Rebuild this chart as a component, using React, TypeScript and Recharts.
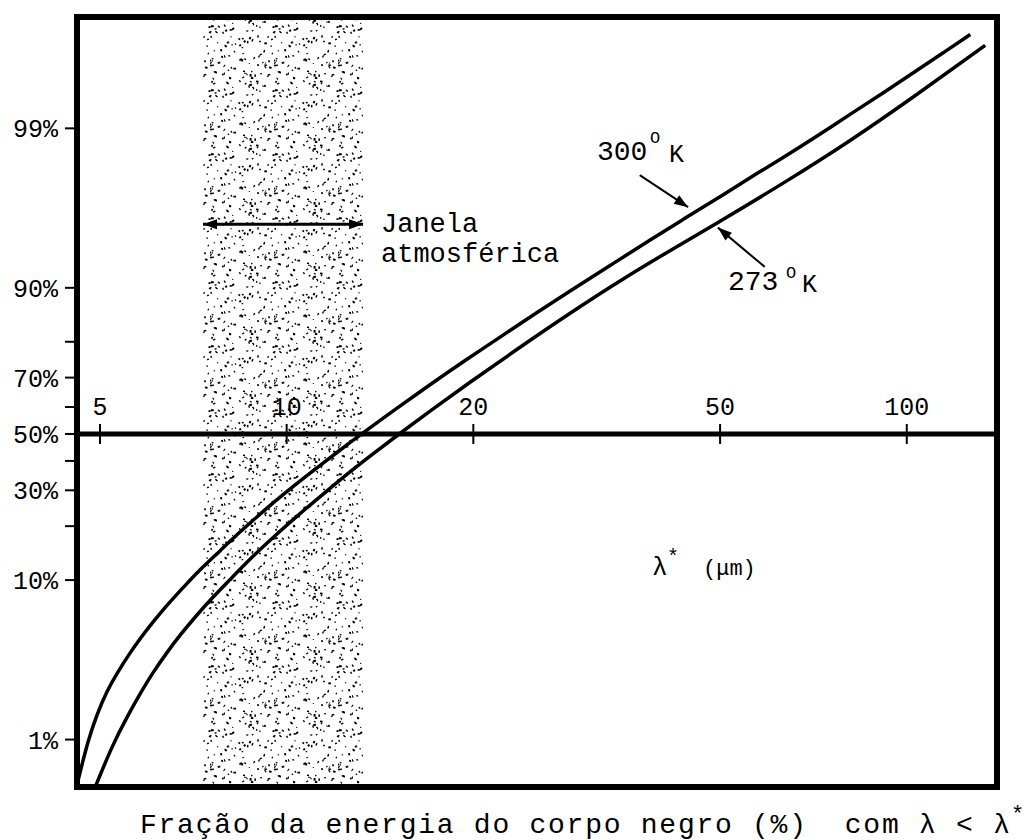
import { LineChart, Line, XAxis, YAxis, ReferenceArea, ReferenceLine, ReferenceDot } from 'recharts';

// λ* (µm) e fração acumulada (%)
const lambda300 = [4.608, 4.642, 4.782, 4.945, 5.132, 5.326, 5.548, 5.8, 6.087, 6.412, 6.856, 7.328, 7.806, 8.315, 8.793, 9.296, 10.05, 10.91, 12.01, 13.23, 15.01, 17.03, 19.4, 22.09, 25.16, 28.65, 33.23, 38.56, 43.74, 49.45, 55.9, 63.19, 71.67, 81.02, 91.93, 103.9, 114.9, 126.6];
const frac300 = [0.54, 0.61, 0.96, 1.44, 2.03, 2.65, 3.42, 4.38, 5.57, 7.06, 9.28, 11.9, 14.7, 18.0, 21.2, 24.7, 29.9, 35.7, 42.8, 50.1, 59.3, 67.7, 75.1, 81.1, 85.9, 89.55, 92.64, 94.86, 96.21, 97.18, 97.92, 98.46, 98.88, 99.188, 99.417, 99.58, 99.68, 99.754];
const lambda273 = [4.93, 5.228, 5.527, 5.8, 6.087, 6.412, 6.729, 7.14, 7.606, 8.132, 8.728, 9.577, 10.51, 11.53, 12.65, 13.73, 15.13, 17.03, 19.76, 23.79, 28.65, 33.23, 38.56, 49.45, 63.19, 81.02, 103.9, 133.8];
const frac273 = [0.51, 0.89, 1.39, 1.96, 2.68, 3.6, 4.61, 6.06, 7.9, 10.2, 13.2, 17.8, 23.2, 29.3, 36.1, 42.3, 49.7, 58.5, 68.5, 78.65, 86.0, 90.08, 92.95, 95.98, 97.75, 98.803, 99.399, 99.711];

const xTicks = [5, 10, 20, 50, 100];
const yTicks = [1, 10, 20, 30, 40, 50, 60, 70, 80, 90, 99];
const yTickLabels = ['1%', '10%', '', '30%', '', '50%', '', '70%', '', '90%', '99%'];

// janela atmosférica (µm) e setas das anotações [λ, %]
const windowBand = [7.33, 13.28];
const windowArrowPct = 95.9;
const arrow300 = [[37.1, 98.0], [44.4, 96.8]];
const arrow273 = [[59.0, 92.5], [49.6, 95.7]];

const xDomain = [4.591, 139.8];
const pctDomain = [0.4926, 99.811];

const FONT = '"Liberation Mono", "DejaVu Sans Mono", monospace';
const logit = (p: number) => Math.log(p / (100 - p));
const yDomain = pctDomain.map(logit);

const series300 = lambda300.map((l, i) => ({ lam: l, z: logit(frac300[i]) }));
const series273 = lambda273.map((l, i) => ({ lam: l, z: logit(frac273[i]) }));
const yTicksZ = yTicks.map(logit);

// pontilhado da faixa
const specks = (() => {
  let s = 987654321;
  const rnd = () => {
    s = (Math.imul(s, 1664525) + 1013904223) >>> 0;
    return s / 4294967296;
  };
  const out: { x: number; y: number; w: number; h: number; r: number }[] = [];
  for (let i = 0; i < 110; i++) {
    out.push({ x: rnd() * 64, y: rnd() * 64, w: 1 + rnd() * 1.8, h: 1 + rnd() * 1.1, r: rnd() * 180 });
  }
  return out;
})();

function head(x: number, y: number, fx: number, fy: number) {
  const a = Math.atan2(y - fy, x - fx);
  const L = 14;
  const W = 5;
  const bx = x - L * Math.cos(a);
  const by = y - L * Math.sin(a);
  const px = -Math.sin(a) * W;
  const py = Math.cos(a) * W;
  return `${x},${y} ${bx + px},${by + py} ${bx - px},${by - py}`;
}

function ArrowShape(props: any) {
  const { x1, y1, x2, y2 } = props;
  return (
    <g>
      <line x1={x1} y1={y1} x2={x2} y2={y2} stroke="#000" strokeWidth={2} />
      <polygon points={head(x2, y2, x1, y1)} fill="#000" />
    </g>
  );
}

function DoubleArrowShape(props: any) {
  const { x1, y1, x2, y2 } = props;
  return (
    <g>
      <line x1={x1} y1={y1} x2={x2} y2={y2} stroke="#000" strokeWidth={3} />
      <polygon points={head(x2, y2, x1, y1)} fill="#000" />
      <polygon points={head(x1, y1, x2, y2)} fill="#000" />
    </g>
  );
}

function LeftTick(props: any) {
  const { x, y, payload } = props;
  let idx = 0;
  yTicksZ.forEach((z, i) => {
    if (Math.abs(z - payload.value) < Math.abs(yTicksZ[idx] - payload.value)) idx = i;
  });
  return (
    <text x={x} y={y} dy={9} textAnchor="end" fontFamily={FONT} fontSize={25} fill="#000">
      {yTickLabels[idx]}
    </text>
  );
}

function MidTick(props: any) {
  const { cx, cy, label } = props;
  return (
    <g>
      <line x1={cx} x2={cx} y1={cy - 10} y2={cy + 10} stroke="#000" strokeWidth={2} />
      <text x={cx} y={cy - 19} textAnchor="middle" fontFamily={FONT} fontSize={25} fill="#000">
        {label}
      </text>
    </g>
  );
}

export default function App() {
  return (
    <div style={{ position: 'absolute', left: 0, top: 0, width: 1032, height: 840, background: '#fff' }}>
      <LineChart width={1032} height={840} margin={{ top: 0, right: 0, bottom: 0, left: 0 }}>
        <defs>
          <pattern id="stipple" width={64} height={64} patternUnits="userSpaceOnUse">
            {specks.map((p, i) => (
              <rect key={i} x={p.x} y={p.y} width={p.w} height={p.h} fill="#000" transform={`rotate(${p.r} ${p.x} ${p.y})`} />
            ))}
          </pattern>
        </defs>
        <XAxis xAxisId="top" orientation="top" dataKey="lam" type="number" scale="log" domain={xDomain} allowDataOverflow
          ticks={xTicks} interval={0} height={17} tickSize={7} tick={false} axisLine={false} tickLine={{ stroke: '#000', strokeWidth: 2 }} />
        <XAxis xAxisId="bot" orientation="bottom" dataKey="lam" type="number" scale="log" domain={xDomain} allowDataOverflow
          ticks={xTicks} interval={0} height={53} tickSize={11} tick={false} axisLine={false} tickLine={{ stroke: '#000', strokeWidth: 2 }} />
        <YAxis yAxisId="l" orientation="left" type="number" domain={yDomain} allowDataOverflow ticks={yTicksZ} interval={0}
          width={77} tickSize={12} tickMargin={7} tick={<LeftTick />} axisLine={false} tickLine={{ stroke: '#000', strokeWidth: 2 }} />
        <YAxis yAxisId="r" orientation="right" type="number" domain={yDomain} allowDataOverflow ticks={yTicksZ} interval={0}
          width={35} tickSize={11} tick={false} axisLine={false} tickLine={{ stroke: '#000', strokeWidth: 2 }} />

        <ReferenceArea xAxisId="bot" yAxisId="l" x1={windowBand[0]} x2={windowBand[1]} y1={yDomain[0]} y2={yDomain[1]}
          fill="url(#stipple)" fillOpacity={1} stroke="none" />

        <ReferenceLine xAxisId="bot" yAxisId="l" y={logit(50)} stroke="#000" strokeWidth={5} />
        {xTicks.map((t) => (
          <ReferenceDot key={t} xAxisId="bot" yAxisId="l" x={t} y={logit(50)} r={0}
            shape={(p: any) => <MidTick {...p} label={String(t)} />} />
        ))}

        <ReferenceLine xAxisId="bot" yAxisId="l"
          segment={[{ x: windowBand[0], y: logit(windowArrowPct) }, { x: windowBand[1], y: logit(windowArrowPct) }]}
          shape={<DoubleArrowShape />} />
        <ReferenceLine xAxisId="bot" yAxisId="l"
          segment={[{ x: arrow300[0][0], y: logit(arrow300[0][1]) }, { x: arrow300[1][0], y: logit(arrow300[1][1]) }]}
          shape={<ArrowShape />} />
        <ReferenceLine xAxisId="bot" yAxisId="l"
          segment={[{ x: arrow273[0][0], y: logit(arrow273[0][1]) }, { x: arrow273[1][0], y: logit(arrow273[1][1]) }]}
          shape={<ArrowShape />} />

        <Line xAxisId="bot" yAxisId="l" data={series300} dataKey="z" type="natural" dot={false} stroke="#000" strokeWidth={3.5} isAnimationActive={false} />
        <Line xAxisId="bot" yAxisId="l" data={series273} dataKey="z" type="natural" dot={false} stroke="#000" strokeWidth={3.5} isAnimationActive={false} />

        <ReferenceArea xAxisId="bot" yAxisId="l" x1={xDomain[0]} x2={xDomain[1]} y1={yDomain[0]} y2={yDomain[1]}
          fill="none" stroke="#000" strokeWidth={6} ifOverflow="visible" />
      </LineChart>

      <svg width={1032} height={840} style={{ position: 'absolute', left: 0, top: 0, pointerEvents: 'none' }}>
        <g fontFamily={FONT} fill="#000">
          <text x={381} y={232} fontSize={27}>Janela</text>
          <text x={381} y={262} fontSize={27}>atmosférica</text>

          <text x={597} y={160} fontSize={28}>300</text>
          <text x={650} y={143} fontSize={17}>O</text>
          <text x={669} y={162} fontSize={25}>K</text>

          <text x={728} y={290} fontSize={28}>273</text>
          <text x={786} y={278} fontSize={17}>O</text>
          <text x={802} y={292} fontSize={25}>K</text>

          <text x={652} y={575} fontSize={26}>λ</text>
          <text x={667} y={563} fontSize={20}>*</text>
          <text x={703} y={575} fontSize={22}>(μm)</text>

          <text x={140} y={833} fontSize={28} textLength={870} lengthAdjust="spacing" style={{ whiteSpace: 'pre' }}>
            {'Fração da energia do corpo negro (%)  com λ < λ'}
          </text>
          <text x={1011} y={821} fontSize={22}>*</text>
        </g>
      </svg>
    </div>
  );
}
